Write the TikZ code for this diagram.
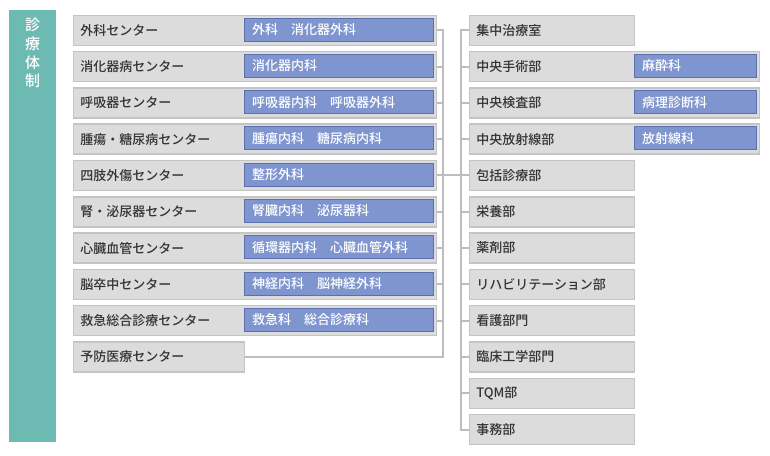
\documentclass[tikz,border=0pt]{standalone}
\usepackage{fontspec}
\setmainfont{Noto Sans CJK JP}[UprightFont=* Medium]
\definecolor{tealbar}{HTML}{6DBAB3}
\definecolor{gfill}{HTML}{DCDCDC}
\definecolor{gborder}{HTML}{C4C4C4}
\definecolor{bfill}{HTML}{7F95CF}
\definecolor{bborder}{HTML}{5C70AE}
\definecolor{txt}{HTML}{333333}
\definecolor{connc}{HTML}{BDBDBD}
\begin{document}
\begin{tikzpicture}[x=1pt,y=-1pt,
  gbox/.style={draw=gborder, fill=gfill, line width=1.5pt, minimum height=30pt,
    inner xsep=7pt, inner ysep=0pt, align=left, anchor=north west, text=txt,
    font=\fontsize{13}{15}\selectfont},
  bbox/.style={draw=bborder, fill=bfill, line width=1pt, minimum height=23pt,
    inner xsep=8pt, inner ysep=0pt, align=left, anchor=west, text=white,
    font=\fontsize{13}{15}\selectfont},
  conn/.style={draw=connc, line width=2pt},
  titletext/.style={text=white, align=center, anchor=north, inner sep=0pt,
    font=\fontsize{15}{18.7}\selectfont}
]
\useasboundingbox (0,0) rectangle (770,455);
\fill[tealbar] (9,10) rectangle (56,442);
\node[titletext] (title) at (32.5,18) {診\\療\\体\\制};

% left column
\foreach \i/\t/\b in {1/外科センター/外科　消化器外科, 2/消化器病センター/消化器内科,
  3/呼吸器センター/呼吸器内科　呼吸器外科, 4/腫瘍・糖尿病センター/腫瘍内科　糖尿病内科,
  5/四肢外傷センター/整形外科, 6/腎・泌尿器センター/腎臓内科　泌尿器科,
  7/心臓血管センター/循環器内科　心臓血管外科, 8/脳卒中センター/神経内科　脳神経外科,
  9/救急総合診療センター/救急科　総合診療科}{
  \node[gbox, text width=349pt] (L\i) at (72.5,{14.5+36.3*(\i-1)}) {\t};
  \node[bbox, text width=173pt] (LB\i) at (243.5,{29.5+36.3*(\i-1)}) {\b};
}
\node[gbox, text width=157pt] (L10) at (72.5,{14.5+36.3*9}) {予防医療センター};

% right column
\foreach \i/\t in {1/集中治療室, 5/包括診療部, 6/栄養部, 7/薬剤部, 8/リハビリテーション部,
  9/看護部門, 10/臨床工学部門, 11/TQM部, 12/事務部}{
  \node[gbox, text width=151pt] (R\i) at (468.5,{14.5+36.3*(\i-1)}) {\t};
}
\foreach \i/\t/\b in {2/中央手術部/麻酔科, 3/中央検査部/病理診断科, 4/中央放射線部/放射線科}{
  \node[gbox, text width=276pt] (R\i) at (468.5,{14.5+36.3*(\i-1)}) {\t};
  \node[bbox, text width=106pt] (RB\i) at (633.5,{29.5+36.3*(\i-1)}) {\b};
}

% connectors
\coordinate (lbus) at (443,0);
\coordinate (rbus) at (461,0);
\draw[conn] (L1.east) -| (lbus |- L10.east) -- (L10.east);
\foreach \i in {2,3,4,6,7,8,9}{
  \draw[conn] (L\i.east) -- (lbus |- L\i.east);
}
\draw[conn] (R1.west) -| (rbus |- R12.west) -- (R12.west);
\foreach \i in {2,3,4,6,7,8,9,10,11}{
  \draw[conn] (R\i.west) -- (rbus |- R\i.west);
}
\draw[conn] (L5.east) -- (R5.west);
\end{tikzpicture}
\end{document}
